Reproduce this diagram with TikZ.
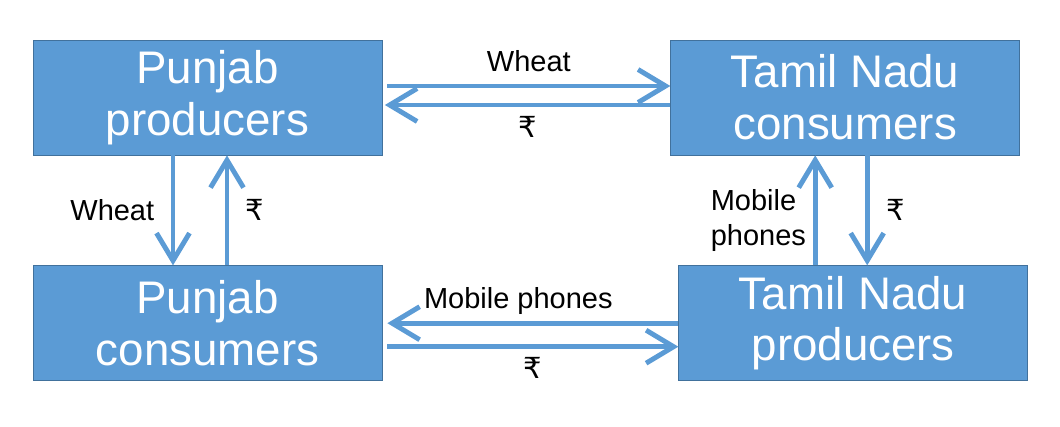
\documentclass[tikz,border=0pt]{standalone}
\usepackage{fontspec}
\setmainfont{Liberation Sans}
\newfontfamily\rupeefont{DejaVu Sans}
\usetikzlibrary{arrows.meta, positioning}
\definecolor{boxblue}{RGB}{91,155,213}
\definecolor{boxline}{RGB}{65,113,156}
\newcommand{\rupee}{{\rupeefont ₹}}
\tikzstyle{market} = [
	rectangle, 
	minimum width=6.98cm,
	minimum height=2.3cm, 
	align=center, 
	text centered, 
	draw=boxline, 
	fill=boxblue,
	text=white,
	font=\fontsize{26}{29.5}\selectfont]
\tikzstyle{flow} = [
	text=black,
	font=\fontsize{16.5}{19.8}\selectfont]
\tikzstyle{arrow} = [-{Straight Barb[length=5.5mm, width=6.6mm]}, line width=2.8pt, draw=boxblue]
\begin{document}
\begin{tikzpicture}

\useasboundingbox (-4.15,1.95) rectangle (17.05,-6.57);

% --- Nodes ---
\node (pprod) [market] {Punjab\\producers};
\node (tncons) [market, right=5.76cm of pprod] {Tamil Nadu\\consumers};
\node (pcons) [market, below=2.2cm of pprod] {Punjab\\consumers};
\node (tnprod) [market, below=2.2cm of tncons, xshift=0.16cm] {Tamil Nadu\\producers};

% --- Arrows ---
\draw [arrow] ([xshift=0.1cm, yshift=0.23cm]pprod.east) -- ([yshift=0.23cm]tncons.west) node[flow, midway, above=0.12cm]{Wheat};
\draw [arrow] ([yshift=-0.15cm]tncons.west) -- ([xshift=0.05cm, yshift=-0.15cm]pprod.east) node[flow, midway, below=0.06cm]{\rupee};

\draw [arrow] ([xshift=-0.69cm]pprod.south) -- ([xshift=-0.69cm]pprod.south |- pcons.north) node[flow, midway, left=0.21cm]{Wheat};
\draw [arrow] ([xshift=0.39cm]pprod.south |- pcons.north) -- ([xshift=0.39cm]pprod.south) node[flow, midway, right=0.21cm]{\rupee};

\draw [arrow] ([xshift=-0.6cm]tncons.south |- tnprod.north) -- ([xshift=-0.6cm]tncons.south) node[flow, midway, left=0.02cm, yshift=-0.2cm, align=left]{Mobile\\phones};
\draw [arrow] ([xshift=0.44cm]tncons.south) -- ([xshift=0.44cm]tncons.south |- tnprod.north) node[flow, midway, right=0.21cm]{\rupee};

\draw [arrow] ([yshift=0cm]tnprod.west) -- ([xshift=0.1cm, yshift=0cm]pcons.east) node[flow, pos=0.55, above=0cm]{Mobile phones};
\draw [arrow] ([xshift=0.1cm, yshift=-0.47cm]pcons.east) -- ([yshift=-0.47cm]tnprod.west) node[flow, midway, below=0.04cm]{\rupee};

\end{tikzpicture}
\end{document}
